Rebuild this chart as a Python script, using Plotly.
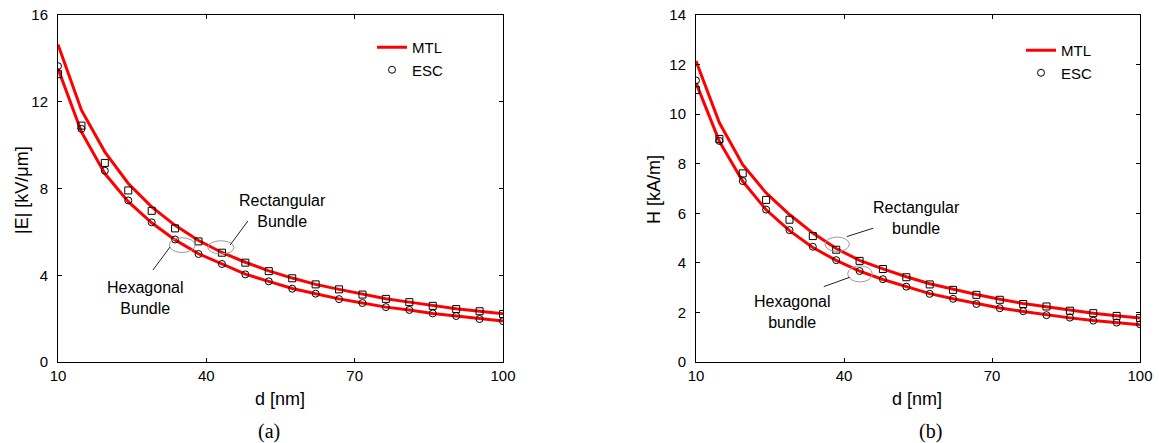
import plotly.graph_objects as go

# ---------------- data ----------------
d_nm = [10.0, 14.74, 19.47, 24.21, 28.95, 33.68, 38.42, 43.16, 47.89, 52.63,
        57.37, 62.11, 66.84, 71.58, 76.32, 81.05, 85.79, 90.53, 95.26, 100.0]

# (a) |E| [kV/um]
E_mtl_rect = [14.64, 11.61, 9.69, 8.23, 7.15, 6.30, 5.60, 5.05, 4.60, 4.20,
              3.87, 3.58, 3.35, 3.12, 2.92, 2.76, 2.60, 2.46, 2.34, 2.23]
E_mtl_hex = [13.53, 10.61, 8.69, 7.39, 6.42, 5.63, 4.99, 4.52, 4.05, 3.72,
             3.39, 3.15, 2.91, 2.72, 2.53, 2.40, 2.24, 2.12, 1.99, 1.89]
E_esc_rect = [13.27, 10.90, 9.18, 7.91, 6.97, 6.16, 5.56, 5.04, 4.58, 4.19,
              3.86, 3.58, 3.35, 3.11, 2.91, 2.76, 2.59, 2.44, 2.34, 2.21]
E_esc_hex = [13.64, 10.75, 8.82, 7.45, 6.44, 5.65, 4.98, 4.52, 4.04, 3.72,
             3.38, 3.15, 2.90, 2.72, 2.53, 2.40, 2.24, 2.12, 1.98, 1.88]

# (b) H [kA/m]
H_mtl_rect = [12.14, 9.65, 7.96, 6.82, 5.95, 5.20, 4.58, 4.10, 3.76, 3.44,
              3.16, 2.93, 2.72, 2.53, 2.36, 2.23, 2.09, 1.97, 1.87, 1.77]
H_mtl_hex = [11.26, 8.90, 7.29, 6.14, 5.30, 4.62, 4.10, 3.67, 3.33, 3.03,
             2.76, 2.55, 2.35, 2.18, 2.04, 1.90, 1.78, 1.67, 1.58, 1.50]
H_esc_rect = [10.97, 9.00, 7.61, 6.54, 5.74, 5.08, 4.53, 4.08, 3.75, 3.42,
              3.13, 2.91, 2.71, 2.51, 2.34, 2.24, 2.07, 1.97, 1.86, 1.77]
H_esc_hex = [11.36, 8.92, 7.30, 6.15, 5.32, 4.65, 4.11, 3.67, 3.34, 3.04,
             2.75, 2.55, 2.34, 2.17, 2.05, 1.89, 1.79, 1.67, 1.59, 1.52]

x_ticks = [10, 40, 70, 100]
yE_ticks = [0, 4, 8, 12, 16]
yH_ticks = [0, 2, 4, 6, 8, 10, 12, 14]

# ---------------- style ----------------
FONT = "Liberation Sans, Arial, sans-serif"
RED = "#ff0000"
LINE_W = 3
MK = dict(size=7, color="black", line=dict(color="black", width=1))

fig = go.Figure()

def add_panel(xa, ya, mtl_rect, mtl_hex, esc_rect, esc_hex, legend):
    fig.add_trace(go.Scatter(x=d_nm, y=mtl_rect, mode="lines", name="MTL",
                             line=dict(color=RED, width=LINE_W),
                             xaxis=xa, yaxis=ya, legend=legend, showlegend=True))
    fig.add_trace(go.Scatter(x=d_nm, y=mtl_hex, mode="lines", name="MTL",
                             line=dict(color=RED, width=LINE_W),
                             xaxis=xa, yaxis=ya, legend=legend, showlegend=False))
    fig.add_trace(go.Scatter(x=d_nm, y=esc_hex, mode="markers", name="ESC",
                             marker=dict(symbol="circle-open", **MK),
                             xaxis=xa, yaxis=ya, legend=legend, showlegend=True))
    fig.add_trace(go.Scatter(x=d_nm, y=esc_rect, mode="markers", name="ESC",
                             marker=dict(symbol="square-open", **MK),
                             xaxis=xa, yaxis=ya, legend=legend, showlegend=False))

add_panel("x", "y", E_mtl_rect, E_mtl_hex, E_esc_rect, E_esc_hex, "legend")
add_panel("x2", "y2", H_mtl_rect, H_mtl_hex, H_esc_rect, H_esc_hex, "legend2")

W, H = 1159, 443
ydom = [(443 - 362) / H, (443 - 15) / H]

axis_common = dict(showline=True, linecolor="black", linewidth=1, mirror="ticks",
                   ticks="inside", ticklen=4, tickcolor="black", showgrid=False,
                   zeroline=False, tickfont=dict(family=FONT, size=15, color="black"),
                   automargin=False, ticklabeloverflow="allow")

fig.update_layout(
    width=W, height=H,
    margin=dict(l=0, r=0, t=0, b=0),
    paper_bgcolor="white", plot_bgcolor="white",
    font=dict(family=FONT, color="black"),
    xaxis=dict(domain=[58 / W, 503 / W], range=[10, 100], tickvals=x_ticks,
               ticklabelstandoff=0, **axis_common),
    yaxis=dict(domain=ydom, range=[0, 16], tickvals=yE_ticks,
               ticklabelstandoff=6, **axis_common),
    xaxis2=dict(domain=[696 / W, 1140 / W], range=[10, 100], tickvals=x_ticks,
                anchor="y2", ticklabelstandoff=0, **axis_common),
    yaxis2=dict(domain=ydom, range=[0, 14], tickvals=yH_ticks, anchor="x2",
                ticklabelstandoff=6, **axis_common),
    legend=dict(x=372 / W, y=(443 - 31) / H, xanchor="left", yanchor="top",
                bgcolor="rgba(0,0,0,0)", font=dict(family=FONT, size=15),
                itemwidth=30, tracegroupgap=0),
    legend2=dict(x=1021 / W, y=(443 - 34) / H, xanchor="left", yanchor="top",
                 bgcolor="rgba(0,0,0,0)", font=dict(family=FONT, size=15),
                 itemwidth=30, tracegroupgap=0),
)

ann_font = dict(family=FONT, size=16, color="black")
title_font = dict(family=FONT, size=18, color="black")
cap_font = dict(family="Liberation Serif, Times New Roman, serif", size=20, color="black")

def paper_text(text, px, py, font, angle=0):
    return dict(text=text, x=px / W, y=(443 - py) / H, xref="paper", yref="paper",
                xanchor="center", yanchor="middle", showarrow=False,
                textangle=angle, font=font)

annotations = [
    # axis titles
    paper_text("d [nm]", 280, 399, title_font),
    paper_text("d [nm]", 917, 399, title_font),
    paper_text("|E| [kV/μm]", 22, 190, title_font, -90),
    paper_text("H [kA/m]", 654, 189, title_font, -90),
    # captions
    paper_text("(a)", 269, 431, cap_font),
    paper_text("(b)", 930, 431, cap_font),
    # labels in panel (a)
    dict(text="Rectangular<br>Bundle", x=55.5, y=6.98, xref="x", yref="y",
         showarrow=False, font=ann_font),
    dict(text="Hexagonal<br>Bundle", x=27.6, y=2.95, xref="x", yref="y",
         showarrow=False, font=ann_font),
    # labels in panel (b)
    dict(text="Rectangular<br>bundle", x=54.7, y=5.82, xref="x2", yref="y2",
         showarrow=False, font=ann_font),
    dict(text="Hexagonal<br>bundle", x=29.6, y=2.03, xref="x2", yref="y2",
         showarrow=False, font=ann_font),
]
fig.update_layout(annotations=annotations)

ELL = dict(color="#9a9a9a", width=1)
PTR = dict(color="#222222", width=1)
shapes = [
    dict(type="circle", xref="x", yref="y", x0=40.3, x1=45.6, y0=4.98, y1=5.59, line=ELL),
    dict(type="circle", xref="x", yref="y", x0=32.5, x1=37.7, y0=5.05, y1=5.73, line=ELL),
    dict(type="line", xref="x", yref="y", x0=44.8, y0=5.39, x1=48.4, y1=6.5, line=PTR),
    dict(type="line", xref="x", yref="y", x0=32.65, y0=5.30, x1=29.2, y1=4.24, line=PTR),
    dict(type="circle", xref="x2", yref="y2", x0=36.15, x1=41.08, y0=4.46, y1=5.04, line=ELL),
    dict(type="circle", xref="x2", yref="y2", x0=40.75, x1=45.74, y0=3.23, y1=3.88, line=ELL),
    dict(type="line", xref="x2", yref="y2", x0=40.55, y0=5.06, x1=45.94, y1=5.40, line=PTR),
    dict(type="line", xref="x2", yref="y2", x0=41.2, y0=3.42, x1=35.9, y1=3.04, line=PTR),
]
fig.update_layout(shapes=shapes)

fig.write_html("out.html", config={"displayModeBar": False},
               post_script="document.body.style.margin='0px';document.body.style.overflow='hidden';")
